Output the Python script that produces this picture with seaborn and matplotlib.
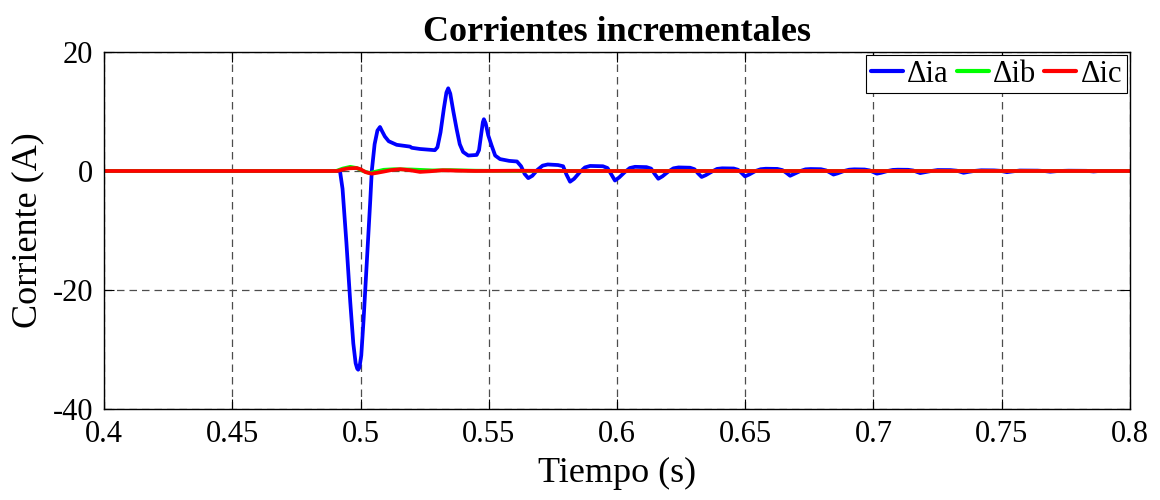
import numpy as np
import pandas as pd
import matplotlib
matplotlib.use("Agg")
import matplotlib.pyplot as plt
import seaborn as sns

# ---- data ----
t_ia = [0.400, 0.4920, 0.4930, 0.4945, 0.4960, 0.4972, 0.4981, 0.4987, 0.4991, 0.4996,
        0.5003, 0.5012, 0.5025, 0.5038, 0.5044, 0.5055, 0.5066, 0.5076, 0.5084, 0.5095,
        0.5110, 0.5141,
        0.5193, 0.5200, 0.5232, 0.5290, 0.5300, 0.5312, 0.5325, 0.5335, 0.5342, 0.5350,
        0.5362, 0.5375, 0.5387, 0.5400, 0.5420, 0.5453, 0.5462, 0.5470, 0.5477, 0.5481,
        0.5488, 0.5498, 0.5511, 0.5525, 0.5544,
        0.5580, 0.5610, 0.5626, 0.5640, 0.5654, 0.5670, 0.5690, 0.5710, 0.5730, 0.5770, 0.5790,
        0.5803, 0.5817, 0.5833, 0.5855, 0.5875, 0.5895, 0.5945, 0.5963,
        0.5978, 0.5992, 0.6008, 0.6030, 0.6050, 0.6070, 0.6115, 0.6133,
        0.6147, 0.6161, 0.6177, 0.6200, 0.6220, 0.6240, 0.6285, 0.6302,
        0.6316, 0.6330, 0.6346, 0.6370, 0.6390, 0.6410, 0.6455, 0.6472,
        0.6485, 0.6499, 0.6515, 0.6540, 0.6560, 0.6580, 0.6625, 0.6645,
        0.6660, 0.6675, 0.6690, 0.6715, 0.6735, 0.6755, 0.6795, 0.6815,
        0.6830, 0.6844, 0.6860, 0.6885, 0.6905, 0.6925, 0.6965, 0.6985,
        0.7000, 0.7013, 0.7030, 0.7055, 0.7075, 0.7095, 0.7135, 0.7155,
        0.7169, 0.7182, 0.7200, 0.7225, 0.7250, 0.7300, 0.7325,
        0.7338, 0.7351, 0.7370, 0.7395, 0.7420, 0.7470, 0.7495,
        0.7507, 0.7520, 0.7540, 0.7570, 0.7640, 0.7665,
        0.7689, 0.7720, 0.7760, 0.7830, 0.7858, 0.7880, 0.800]
v_ia = [0.0, 0.0, -3.0, -12.0, -22.0, -29.0, -32.3, -33.2, -33.4, -33.0,
        -31.0, -25.0, -15.0, -5.0, 0.0, 4.5, 6.8, 7.4, 6.7, 5.8,
        5.0, 4.4,
        4.1, 3.9, 3.7, 3.5, 4.0, 6.5, 10.5, 13.2, 13.9, 13.0,
        10.0, 7.0, 4.5, 3.2, 2.6, 2.7, 3.5, 6.0, 8.2, 8.7,
        8.0, 6.0, 4.3, 2.6, 2.0,
        1.7, 1.6, 0.8, -0.5, -1.2, -0.8, 0.2, 0.9, 1.1, 1.0, 0.8,
        -0.6, -1.8, -1.3, -0.2, 0.6, 0.85, 0.8, 0.5,
        -0.6, -1.6, -1.1, -0.2, 0.5, 0.7, 0.65, 0.4,
        -0.5, -1.3, -0.9, -0.1, 0.45, 0.6, 0.55, 0.3,
        -0.4, -1.0, -0.7, -0.1, 0.35, 0.45, 0.42, 0.2,
        -0.3, -0.9, -0.6, 0.0, 0.3, 0.38, 0.35, 0.15,
        -0.3, -0.8, -0.5, 0.0, 0.28, 0.33, 0.3, 0.1,
        -0.25, -0.6, -0.4, 0.0, 0.22, 0.28, 0.25, 0.1,
        -0.2, -0.45, -0.3, 0.0, 0.18, 0.22, 0.2, 0.08,
        -0.15, -0.35, -0.2, 0.0, 0.16, 0.15, 0.05,
        -0.12, -0.3, -0.15, 0.02, 0.12, 0.1, 0.03,
        -0.08, -0.2, -0.08, 0.08, 0.06, 0.0,
        -0.12, 0.0, 0.05, 0.03, -0.08, 0.0, 0.0]

t_ib = [0.400, 0.4905, 0.4930, 0.4960, 0.4985, 0.5010, 0.5035, 0.5060, 0.5090, 0.5130,
        0.5200, 0.5280, 0.5350, 0.5450, 0.5600, 0.800]
v_ib = [0.0, 0.0, 0.4, 0.7, 0.5, 0.0, -0.35, -0.1, 0.2, 0.3,
        0.25, 0.1, 0.15, 0.05, 0.0, 0.0]

t_ic = [0.400, 0.4910, 0.4935, 0.4955, 0.4985, 0.5000, 0.5020, 0.5044, 0.5065, 0.5090,
        0.5120, 0.5155, 0.5190, 0.5232, 0.5270, 0.5320, 0.5380, 0.5450, 0.5600, 0.5800, 0.800]
v_ic = [0.0, 0.0, 0.3, 0.45, 0.5, 0.3, -0.2, -0.45, -0.3, -0.1,
        0.15, 0.3, 0.15, -0.15, -0.05, 0.12, 0.05, 0.0, 0.05, 0.0, 0.0]

series_names = ["\u0394ia", "\u0394ib", "\u0394ic"]
series_colors = ["#0000ff", "#00ff00", "#ff0000"]
x_ticks = [0.4, 0.45, 0.5, 0.55, 0.6, 0.65, 0.7, 0.75, 0.8]
x_tick_labels = ["0.4", "0.45", "0.5", "0.55", "0.6", "0.65", "0.7", "0.75", "0.8"]
y_ticks = [-40, -20, 0, 20]
y_tick_labels = ["-40", "-20", "0", "20"]

df = pd.concat([
    pd.DataFrame({"t": t_ia, "v": v_ia, "s": series_names[0]}),
    pd.DataFrame({"t": t_ib, "v": v_ib, "s": series_names[1]}),
    pd.DataFrame({"t": t_ic, "v": v_ic, "s": series_names[2]}),
], ignore_index=True)

sns.set_theme(style="white")
plt.rcParams["font.family"] = ["Liberation Serif", "DejaVu Serif"]
plt.rcParams["axes.unicode_minus"] = False
plt.rcParams["text.color"] = "black"
plt.rcParams["axes.labelcolor"] = "black"

fig = plt.figure(figsize=(11.6, 5), dpi=100)
ax = fig.add_axes([104 / 1160, 91 / 500, 1026 / 1160, 357 / 500])

sns.lineplot(data=df, x="t", y="v", hue="s", palette=dict(zip(series_names, series_colors)),
             estimator=None, sort=False, linewidth=2.7, ax=ax)

ax.set_xlim(0.4, 0.8)
ax.set_ylim(-40, 20)
ax.set_xticks(x_ticks)
ax.set_xticklabels(x_tick_labels)
ax.set_yticks(y_ticks)
ax.set_yticklabels(y_tick_labels)
ax.tick_params(axis="both", which="both", direction="in", length=7, width=0.8,
               top=True, right=True, bottom=True, left=True, labelsize=22,
               colors="black", labelcolor="black", pad=8)
ax.grid(True, linestyle=(0, (6, 4)), color="0.3", linewidth=0.9)
ax.set_axisbelow(True)
for sp in ax.spines.values():
    sp.set_color("black")
    sp.set_linewidth(1.0)
    sp.set_visible(True)

ax.set_title("Corrientes incrementales", fontsize=26, fontweight="bold", color="black", pad=8)
ax.set_xlabel("Tiempo (s)", fontsize=26, labelpad=6, color="black")
ax.set_ylabel("Corriente (A)", fontsize=26, labelpad=6, color="black")

leg = ax.legend(loc="upper right", ncol=3, fontsize=22, frameon=True, fancybox=False,
                edgecolor="black", framealpha=1, borderaxespad=0.1, handlelength=1.05,
                handletextpad=0.15, columnspacing=0.25, borderpad=0.15)
leg.get_frame().set_linewidth(0.8)
for line in leg.get_lines():
    line.set_linewidth(3)
for txt in leg.get_texts():
    txt.set_color("black")

fig.savefig("out.png", dpi=100)
